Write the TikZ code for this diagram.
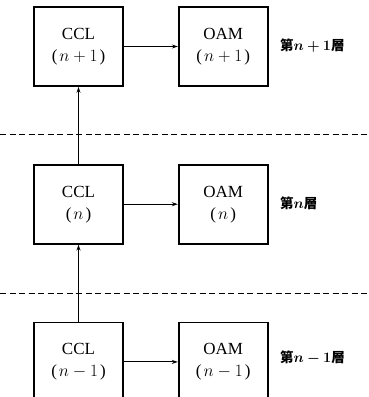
\documentclass[tikz,border=0pt]{standalone}
\usepackage{fontspec}
\usepackage{bm}
\setmainfont{Liberation Serif}
\newfontfamily\cjk{Noto Sans CJK TC}
\usetikzlibrary{positioning,arrows.meta}

\newcommand{\layerno}[1]{(\kern2pt$#1$\kern2pt)}

\begin{document}
\begin{tikzpicture}[
    x=1pt, y=-1pt,
    node distance=77pt and 54pt,
    box/.style={rectangle, draw, line width=1.7pt, minimum width=89pt, minimum height=79pt, align=center, font=\fontsize{17}{22}\selectfont, inner sep=0pt},
    arrow/.style={-{Stealth[length=6pt,width=4pt]}, line width=1.1pt},
    layerlabel/.style={anchor=west, font=\cjk\bfseries\fontsize{13.5}{15}\selectfont, inner sep=0pt},
    divider/.style={dashed, dash pattern=on 6pt off 3.5pt, line width=1pt},
]
\useasboundingbox (0,0) rectangle (369,397);

% Layer n+1
\node[box] (ccltop) at (78.5,46.5) {CCL\\\layerno{n+1}};
\node[box, right=of ccltop] (oamtop) {OAM\\\layerno{n+1}};
\node[layerlabel] (labtop) at (280,46) {第$\bm{n+1}$層};

% Layer n
\node[box, below=of ccltop] (cclmid) {CCL\\\layerno{n}};
\node[box, right=of cclmid] (oammid) {OAM\\\layerno{n}};
\node[layerlabel] (labmid) at (280,203) {第$\bm{n}$層};

% Layer n-1
\node[box, below=of cclmid] (cclbot) {CCL\\\layerno{n-1}};
\node[box, right=of cclbot] (oambot) {OAM\\\layerno{n-1}};
\node[layerlabel] (labbot) at (280,358) {第$\bm{n-1}$層};

% Layer boundaries
\coordinate (d1l) at (0,134);
\coordinate (d1r) at (369,134);
\coordinate (d2l) at (0,293);
\coordinate (d2r) at (369,293);
\draw[divider] (d1l) -- (d1r);
\draw[divider] (d2l) -- (d2r);

% Arrows
\draw[arrow] (ccltop) -- (oamtop);
\draw[arrow] (cclmid) -- (oammid);
\draw[arrow] (cclbot) -- (oambot);
\draw[arrow] (cclbot) -- (cclmid);
\draw[arrow] (cclmid) -- (ccltop);

\end{tikzpicture}
\end{document}
